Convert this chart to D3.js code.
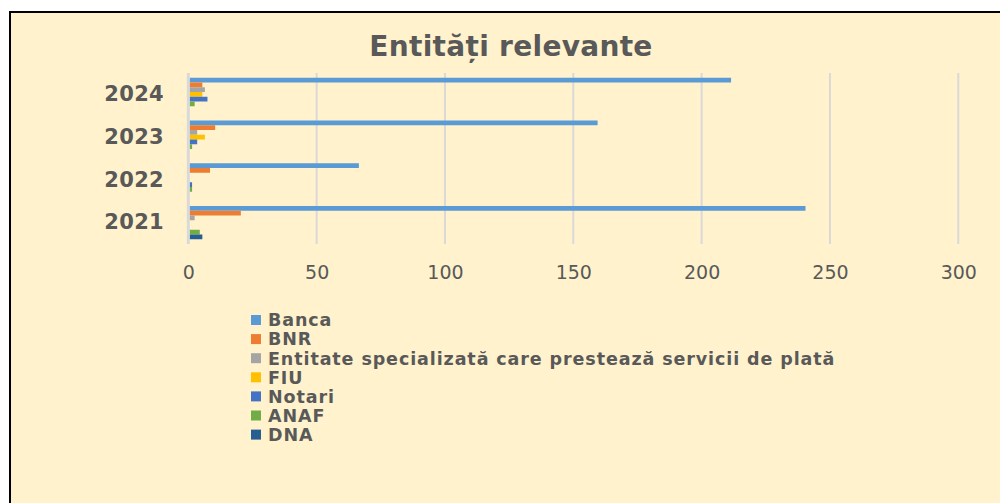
<!DOCTYPE html>
<html>
<head>
<meta charset="utf-8">
<script src="https://cdn.jsdelivr.net/npm/d3@7"></script>
<style>
html,body{margin:0;padding:0;background:#ffffff;}
svg{display:block;}
</style>
</head>
<body>
<svg id="chart" width="1000" height="503"></svg>
<script>
const categories = ["2024", "2023", "2022", "2021"];
const seriesNames = ["Banca", "BNR", "Entitate specializată care prestează servicii de plată", "FIU", "Notari", "ANAF", "DNA"];
const banca    = [211, 159, 66, 240];
const bnr      = [5, 10, 8, 20];
const entitate = [6, 3, 0, 2];
const fiu      = [5, 6, 0, 0];
const notari   = [7, 3, 1, 0];
const anaf     = [2, 1, 1, 4];
const dna      = [0, 0, 0, 5];
const xTicks   = [0, 50, 100, 150, 200, 250, 300];
const colors   = ["#5B9BD5", "#ED7D31", "#A5A5A5", "#FFC000", "#4472C4", "#70AD47", "#255E91"];
const title    = "Entități relevante";

const seriesValues = [banca, bnr, entitate, fiu, notari, anaf, dna];

const svg = d3.select("#chart");
const textColor = "#595959";
const font = "'DejaVu Sans', Verdana, sans-serif";

// frame
svg.append("rect").attr("x", 10).attr("y", 12).attr("width", 1000).attr("height", 500)
  .attr("fill", "#FFF2CC").attr("stroke", "#000").attr("stroke-width", 2);

// title
svg.append("text").attr("x", 511).attr("y", 56).attr("text-anchor", "middle")
  .attr("font-family", font).attr("font-weight", "bold")
  .attr("font-size", 28).attr("letter-spacing", 0.3).attr("fill", textColor).text(title);

const x = d3.scaleLinear().domain([0, 300]).range([188.3, 958.3]);
const y = d3.scaleBand().domain(categories).range([73, 244]).paddingInner(0.222).paddingOuter(0.111);
const ySub = d3.scaleBand().domain(d3.range(seriesNames.length)).range([0, y.bandwidth()]);

// gridlines
svg.append("g").selectAll("line").data(xTicks.filter(t => t > 0)).join("line")
  .attr("x1", d => x(d)).attr("x2", d => x(d)).attr("y1", 73).attr("y2", 244)
  .attr("stroke", "#D9D9D9").attr("stroke-width", 2);

// bars
const groups = svg.append("g").selectAll("g").data(categories).join("g")
  .attr("transform", d => `translate(0,${y(d)})`);
groups.selectAll("rect").data((c, ci) => seriesValues.map((vals, si) => ({si, v: vals[ci]})))
  .join("rect")
  .attr("x", x(0) + 1.2)
  .attr("y", d => ySub(d.si))
  .attr("width", d => Math.max(0, x(d.v) - x(0)))
  .attr("height", ySub.bandwidth())
  .attr("fill", d => colors[d.si]);

// y axis line
svg.append("line").attr("x1", x(0)).attr("x2", x(0)).attr("y1", 73).attr("y2", 244)
  .attr("stroke", "#D9D9D9").attr("stroke-width", 3);

// x axis tick labels
const xAxis = d3.axisBottom(x).tickValues(xTicks).tickSize(0).tickPadding(0);
const xg = svg.append("g").attr("transform", "translate(0,265)").call(xAxis);
xg.select(".domain").remove();
xg.selectAll("text").attr("font-family", font).attr("font-size", 19).attr("fill", textColor);

// y axis labels
const yAxis = d3.axisLeft(y).tickSize(0).tickPadding(0);
const yg = svg.append("g").attr("transform", "translate(164,0)").call(yAxis);
yg.select(".domain").remove();
yg.selectAll("text").attr("font-family", font).attr("font-weight", "bold").attr("font-size", 21)
  .attr("letter-spacing", 0.3).attr("fill", textColor);

// legend
const legend = svg.append("g").selectAll("g").data(seriesNames).join("g")
  .attr("transform", (d, i) => `translate(251,${320 + i * 19.1})`);
legend.append("rect").attr("x", 0).attr("y", -5).attr("width", 10).attr("height", 10)
  .attr("fill", (d, i) => colors[i]);
legend.append("text").attr("x", 17).attr("y", 0).attr("dy", "0.36em")
  .attr("font-family", font).attr("font-weight", "bold").attr("font-size", 17.5)
  .attr("letter-spacing", 0.9).attr("fill", textColor).text(d => d);
</script>
</body>
</html>
